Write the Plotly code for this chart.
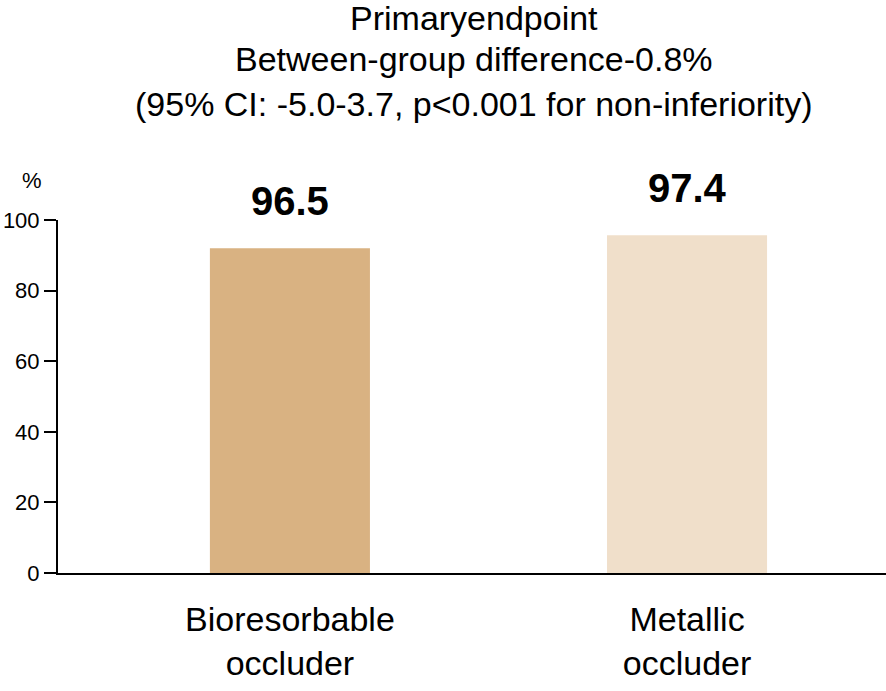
import plotly.graph_objects as go

categories = ["Bioresorbable<br>occluder", "Metallic<br>occluder"]
bar_values = [92.0, 95.7]
value_labels = ["96.5", "97.4"]
colors = ["#D9B282", "#F0DFCA"]
tick_vals = [0, 20, 40, 60, 80, 100]
title_lines = ["Primaryendpoint", "Between-group difference-0.8%",
               "(95% CI: -5.0-3.7, p<0.001 for non-inferiority)"]
title_y_px = [18, 59, 104]

FONT = "Liberation Sans, Arial, sans-serif"
W, H = 886, 691
L, R, T, B = 58, 0, 220, 118
PW, PH = W - L - R, H - T - B

fig = go.Figure()
fig.add_trace(go.Bar(
    x=[0, 1], y=bar_values, width=0.403,
    marker=dict(color=colors, line=dict(width=0)),
    hoverinfo="skip",
))

for i, (v, lab) in enumerate(zip(bar_values, value_labels)):
    fig.add_annotation(x=i, y=v, text="<b>" + lab + "</b>", showarrow=False,
                       xref="x", yref="y", yanchor="bottom", yshift=23,
                       font=dict(size=40, color="black", family=FONT))

for line, yy in zip(title_lines, title_y_px):
    fig.add_annotation(text=line, x=(474 - L) / PW, y=(H - B - yy) / PH,
                       xref="paper", yref="paper",
                       showarrow=False, xanchor="center", yanchor="middle",
                       font=dict(size=34, color="black", family=FONT))

fig.add_annotation(text="%", x=(32 - L) / PW, y=(H - B - 180) / PH,
                   xref="paper", yref="paper", xanchor="center", yanchor="middle",
                   showarrow=False, font=dict(size=22, color="black", family=FONT))

fig.update_layout(
    width=W, height=H,
    margin=dict(l=L, r=R, t=T, b=B, autoexpand=False),
    paper_bgcolor="white", plot_bgcolor="white",
    showlegend=False,
    font=dict(family=FONT, color="black"),
    xaxis=dict(range=[-0.584, 1.501], tickvals=[0, 1], ticktext=categories,
               showline=True, linecolor="black", linewidth=2, ticks="",
               ticklabelstandoff=15,
               showgrid=False, zeroline=False, tickfont=dict(size=34, color="black")),
    yaxis=dict(range=[0, 100], tickvals=tick_vals, showline=True, linecolor="black",
               linewidth=2, ticks="outside", ticklen=12, tickwidth=2, tickcolor="black",
               showgrid=False, zeroline=False, tickfont=dict(size=22, color="black")),
)

fig.write_html("out.html", config={"displayModeBar": False},
               post_script="document.body.style.margin='0';")
